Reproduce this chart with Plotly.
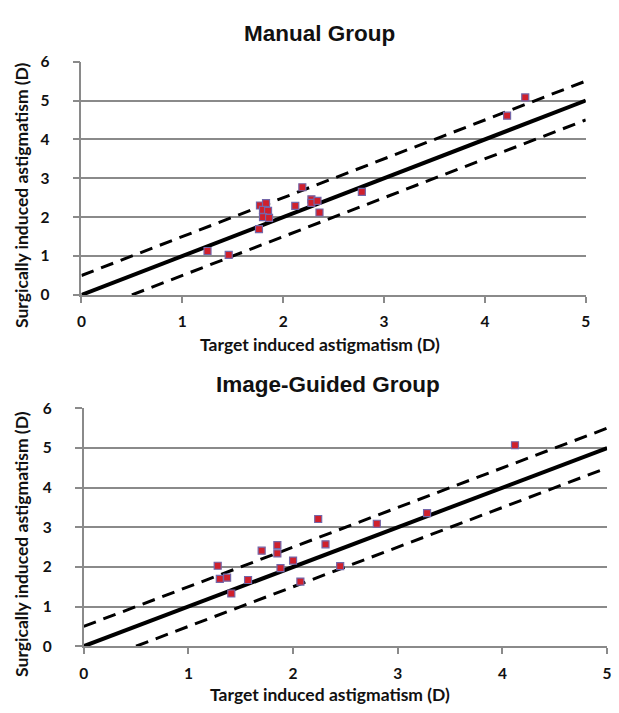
import plotly.graph_objects as go

# ---- data ----
manual_target = [1.25, 1.46, 1.76, 1.77, 1.83, 1.80, 1.85, 1.80, 1.86, 2.12, 2.19, 2.28, 2.28, 2.34, 2.36, 2.78, 4.22, 4.40]
manual_sia    = [1.13, 1.03, 1.69, 2.30, 2.36, 2.19, 2.16, 2.00, 1.98, 2.29, 2.77, 2.46, 2.37, 2.42, 2.12, 2.65, 4.61, 5.08]

guided_target = [1.28, 1.30, 1.37, 1.41, 1.57, 1.70, 1.85, 1.85, 1.88, 2.00, 2.07, 2.24, 2.31, 2.45, 2.80, 3.28, 4.12]
guided_sia    = [2.03, 1.70, 1.73, 1.33, 1.67, 2.41, 2.55, 2.34, 1.97, 2.16, 1.63, 3.21, 2.57, 2.02, 3.09, 3.36, 5.07]

line_x = [0, 5]
identity_y = [0, 5]
upper_x = [0, 5]
upper_y = [0.5, 5.5]
lower_x = [0.5, 5]
lower_y = [0, 4.5]

x_ticks = [0, 1, 2, 3, 4, 5]
y_ticks = [0, 1, 2, 3, 4, 5, 6]

titles = ["Manual Group", "Image-Guided Group"]
x_title = "Target induced astigmatism (D)"
y_title = "Surgically induced astigmatism (D)"

W, H = 619, 713
fig = go.Figure()

panels = [
    (manual_target, manual_sia, "x", "y"),
    (guided_target, guided_sia, "x2", "y2"),
]

for tx, sy, xa, ya in panels:
    fig.add_trace(go.Scatter(x=line_x, y=identity_y, mode="lines",
                             line=dict(color="black", width=4),
                             xaxis=xa, yaxis=ya, showlegend=False))
    fig.add_trace(go.Scatter(x=upper_x, y=upper_y, mode="lines",
                             line=dict(color="black", width=3, dash="13px,8px"),
                             xaxis=xa, yaxis=ya, showlegend=False))
    fig.add_trace(go.Scatter(x=lower_x, y=lower_y, mode="lines",
                             line=dict(color="black", width=3, dash="13px,8px"),
                             xaxis=xa, yaxis=ya, showlegend=False))
    fig.add_trace(go.Scatter(x=tx, y=sy, mode="markers",
                             marker=dict(symbol="square", size=7, color="#D0202C",
                                         line=dict(color="#7466A8", width=1.2)),
                             xaxis=xa, yaxis=ya, showlegend=False))

tick_font = dict(family="Lato, Open Sans, sans-serif", size=15.5, color="#111111", weight="bold")

def xaxis_cfg(domain, anchor):
    return dict(domain=domain, anchor=anchor, range=[0, 5], tickvals=x_ticks,
                showgrid=False, zeroline=False, showline=True, linecolor="#8a8a8a",
                linewidth=1.5, ticks="outside", ticklen=6, tickwidth=1.5,
                tickcolor="#8a8a8a", tickfont=tick_font, ticklabelstandoff=6,
                ticklabeloverflow="allow", fixedrange=True)

def yaxis_cfg(domain, anchor):
    return dict(domain=domain, anchor=anchor, range=[0, 6], tickvals=y_ticks,
                showgrid=True, gridcolor="#8a8a8a", gridwidth=1.5,
                zeroline=False, showline=True, linecolor="#8a8a8a",
                linewidth=1.5, ticks="outside", ticklen=7, tickwidth=1.5,
                tickcolor="#8a8a8a", tickfont=tick_font, ticklabelstandoff=20,
                ticklabeloverflow="allow", fixedrange=True)

top_x = [77.7 / W, 590.3 / W]
top_y = [(H - 292.3) / H, (H - 53) / H]
bot_x = [80 / W, 612 / W]
bot_y = [(H - 652.7) / H, (H - 408.7) / H]

fig.update_layout(
    width=W, height=H,
    margin=dict(l=0, r=0, t=0, b=0),
    paper_bgcolor="white", plot_bgcolor="white",
    xaxis=xaxis_cfg(top_x, "y"),
    yaxis=yaxis_cfg(top_y, "x"),
    xaxis2=xaxis_cfg(bot_x, "y2"),
    yaxis2=yaxis_cfg(bot_y, "x2"),
)

title_font = dict(family="Liberation Sans, Arial, sans-serif", size=22.5, color="#111111")
label_font = dict(family="Lato, Open Sans, sans-serif", size=17.5, color="#111111")

ann = [
    dict(text="<b>" + titles[0] + "</b>", x=320 / W, y=(H - 24) / H, font=title_font),
    dict(text="<b>" + titles[1] + "</b>", x=328 / W, y=(H - 384) / H, font=title_font),
    dict(text="<b>" + x_title + "</b>", x=320 / W, y=(H - 343) / H, font=label_font),
    dict(text="<b>" + x_title + "</b>", x=330 / W, y=(H - 702) / H, font=label_font),
    dict(text="<b>" + y_title + "</b>", x=16 / W, y=(H - 190) / H, font=label_font, textangle=-90),
    dict(text="<b>" + y_title + "</b>", x=16 / W, y=(H - 548) / H, font=label_font, textangle=-90),
]
for a in ann:
    fig.add_annotation(xref="paper", yref="paper", showarrow=False,
                       xanchor="center", yanchor="middle", **a)

fig.write_html("out.html",
               config={"displayModeBar": False},
               post_script="document.body.style.margin='0';document.body.style.overflow='hidden';")
